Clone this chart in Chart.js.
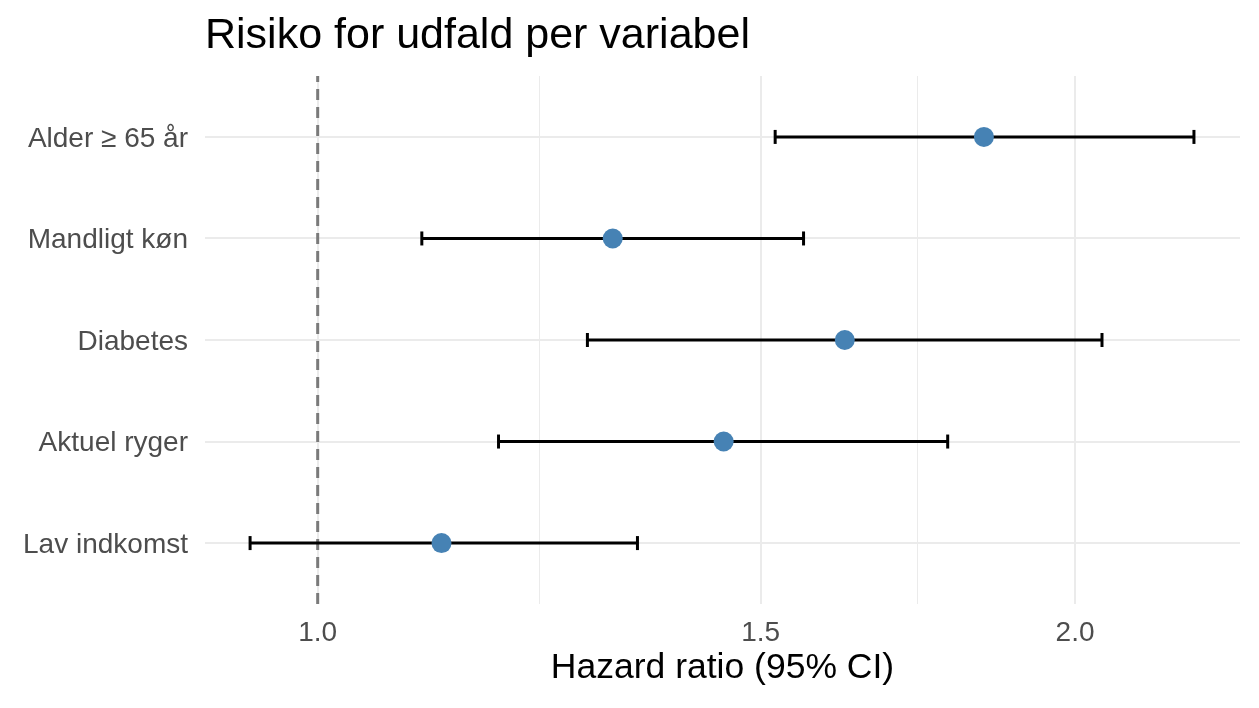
<!DOCTYPE html>
<html><head><meta charset="utf-8">
<script src="https://cdn.jsdelivr.net/npm/chart.js@4/dist/chart.umd.min.js"></script>
<style>html,body{margin:0;padding:0;background:#fff}#wrap{width:1259px;height:708px}</style>
</head><body><div id="wrap"><canvas id="c" width="1259" height="708"></canvas></div>
<script>
const categories = ["Alder \u2265 65 \u00e5r", "Mandligt k\u00f8n", "Diabetes", "Aktuel ryger", "Lav indkomst"];
const hr    = [1.84, 1.31, 1.62, 1.45, 1.12];
const lower = [1.52, 1.10, 1.28, 1.18, 0.94];
const upper = [2.23, 1.56, 2.05, 1.78, 1.34];
const majorTicks = [1.0, 1.5, 2.0];
const minorTicks = [1.2247, 1.7321];
const refValue = 1.0;

const FONT = "'Liberation Sans', Arial, sans-serif";
const n = categories.length;
const yPos = i => n - i; // top category at highest y

const datasets = [];
datasets.push({
  type: 'line', data: [{x: refValue, y: 0.4}, {x: refValue, y: n + 0.6}],
  borderColor: '#7a7a7a', borderWidth: 3, borderDash: [11, 7], pointRadius: 0, order: 3
});
categories.forEach((c, i) => {
  datasets.push({
    type: 'line', data: [{x: lower[i], y: yPos(i)}, {x: upper[i], y: yPos(i)}],
    borderColor: '#000', borderWidth: 3, pointStyle: 'line', pointRotation: 90,
    pointRadius: 7, pointBorderColor: '#000', pointBorderWidth: 3, order: 2
  });
});
datasets.push({
  type: 'scatter', data: hr.map((v, i) => ({x: v, y: yPos(i)})),
  backgroundColor: '#4682B4', borderColor: '#4682B4', pointRadius: 10, borderWidth: 0, order: 1
});

const titlePlugin = {
  id: 'ggTitle',
  afterDraw(chart) {
    const ctx = chart.ctx;
    ctx.save();
    ctx.font = "43px " + FONT;
    ctx.fillStyle = '#000';
    ctx.textBaseline = 'alphabetic';
    ctx.textAlign = 'left';
    ctx.fillText('Risiko for udfald per variabel', chart.chartArea.left, 48);
    ctx.restore();
  }
};

new Chart(document.getElementById('c'), {
  data: { datasets },
  options: {
    responsive: false, animation: false,
    layout: { padding: { top: 76, left: 0, right: 19, bottom: 0 } },
    plugins: { legend: { display: false }, tooltip: { enabled: false }, title: { display: false } },
    scales: {
      x: {
        type: 'logarithmic', min: 0.902, max: 2.326,
        afterBuildTicks: s => { s.ticks = [...majorTicks, ...minorTicks].sort((a, b) => a - b).map(v => ({value: v})); },
        afterFit: s => { s.height = 104; },
        ticks: {
          autoSkip: false, maxRotation: 0, padding: 12, color: '#4d4d4d',
          font: { family: FONT, size: 28 },
          callback: (v) => majorTicks.some(m => Math.abs(m - v) < 1e-6) ? v.toFixed(1) : ''
        },
        grid: {
          drawTicks: false,
          color: '#ebebeb',
          lineWidth: ctx => (ctx.tick && majorTicks.some(m => Math.abs(m - ctx.tick.value) < 1e-6)) ? 2 : 1
        },
        border: { display: false },
        title: { display: true, text: 'Hazard ratio (95% CI)', color: '#000',
                 font: { family: FONT, size: 35.5 }, padding: { top: 0, bottom: 18 } }
      },
      y: {
        type: 'linear', min: 0.4, max: n + 0.6,
        afterBuildTicks: s => { s.ticks = categories.map((c, i) => ({value: yPos(i)})); },
        afterFit: s => { s.width = 205; },
        ticks: {
          autoSkip: false, padding: 17, color: '#4d4d4d', labelOffset: 2,
          font: { family: FONT, size: 28 },
          callback: v => categories[n - Math.round(v)]
        },
        grid: { drawTicks: false, color: '#ebebeb', lineWidth: 2 },
        border: { display: false }
      }
    }
  },
  plugins: [titlePlugin]
});
</script>
</body></html>
